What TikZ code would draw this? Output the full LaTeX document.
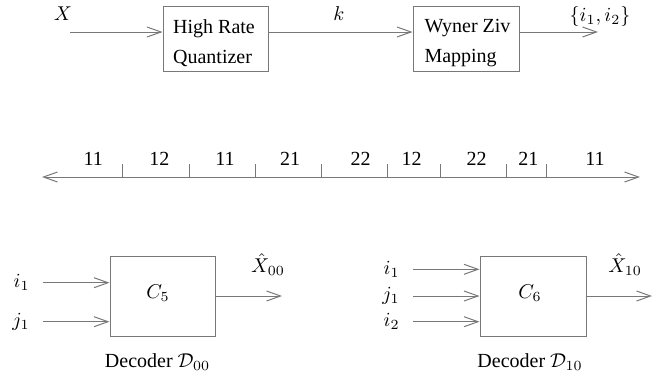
\documentclass[tikz,border=0pt]{standalone}
\usepackage{fontspec}
\setmainfont{Liberation Serif}
\usetikzlibrary{arrows.meta}
\definecolor{linegray}{RGB}{120,120,120}
\begin{document}
\begin{tikzpicture}[x=0.5pt,y=-0.5pt,
  wire/.style={draw=linegray, line width=0.5pt},
  flow/.style={wire, -{Straight Barb[length=7pt,width=5pt]}},
  blockbox/.style={draw=linegray, line width=0.5pt, inner sep=0pt},
  lbl/.style={font=\fontsize{10}{15}\selectfont, inner sep=0pt}]
\useasboundingbox (0,0) rectangle (657,386);

% ---- encoder chain ----
\node[blockbox, minimum width=52.5pt, minimum height=32.5pt] (hq) at (215.5,38.5) {};
\node[lbl, align=left] (hqtext) at (214,43) {High Rate\\Quantizer};
\node[blockbox, minimum width=53pt, minimum height=32.5pt] (wz) at (466,38.5) {};
\node[lbl, align=left] (wztext) at (467.5,43) {Wyner Ziv\\Mapping};
\coordinate (xin) at (70,32);
\coordinate (wzout) at (598,32);
\draw[flow] (xin) -- (xin -| hq.west);
\draw[flow] (xin -| hq.east) -- (xin -| wz.west);
\draw[flow] (xin -| wz.east) -- (wzout);
\node[lbl] (xlab) at (63,14) {$X$};
\node[lbl] (klab) at (339,14) {$k$};
\node[lbl] (ilab) at (600,16) {$\{i_1,i_2\}$};

% ---- index line ----
\coordinate (nl) at (42,177);
\coordinate (nr) at (640,177);
\draw[wire, {Straight Barb[length=7pt,width=5pt]}-{Straight Barb[length=7pt,width=5pt]}] (nl) -- (nr);
\foreach \t in {122.7,189.3,255.7,321.7,387.3,440,506.3,546.7}
  \draw[wire] (\t,164) -- (\t,177);
\foreach \p/\s in {93.3/11,159.3/12,225/11,290/21,360.7/22,411.7/12,476.7/22,528.3/21,595/11}
  \node[lbl] at (\p,158.5) {\s};

% ---- decoder D00 ----
\node[blockbox, minimum width=52.5pt, minimum height=40pt] (c5) at (162.5,296) {};
\node[lbl] (c5lab) at (158,293) {$C_5$};
\coordinate (a1) at (43,282.7);
\coordinate (a2) at (43,321.7);
\coordinate (aout) at (282,296);
\draw[flow] (a1) -- (a1 -| c5.west);
\draw[flow] (a2) -- (a2 -| c5.west);
\draw[flow] (c5.east) -- (aout);
\node[lbl, anchor=east] at (30,282.7) {$i_1$};
\node[lbl, anchor=east] at (30,321.7) {$j_1$};
\node[lbl] at (268,265) {$\hat{X}_{00}$};
\node[lbl] at (157.5,362) {Decoder $\mathcal{D}_{00}$};

% ---- decoder D10 ----
\node[blockbox, minimum width=53pt, minimum height=40pt] (c6) at (533,296) {};
\node[lbl] (c6lab) at (530,293) {$C_6$};
\coordinate (b1) at (413,269.3);
\coordinate (b2) at (413,296);
\coordinate (b3) at (413,321.7);
\coordinate (bout) at (652,296);
\draw[flow] (b1) -- (b1 -| c6.west);
\draw[flow] (b2) -- (b2 -| c6.west);
\draw[flow] (b3) -- (b3 -| c6.west);
\draw[flow] (c6.east) -- (bout);
\node[lbl, anchor=east] at (400,269.3) {$i_1$};
\node[lbl, anchor=east] at (400,296) {$j_1$};
\node[lbl, anchor=east] at (400,321.7) {$i_2$};
\node[lbl] at (625,265) {$\hat{X}_{10}$};
\node[lbl] at (530,362) {Decoder $\mathcal{D}_{10}$};
\end{tikzpicture}
\end{document}
